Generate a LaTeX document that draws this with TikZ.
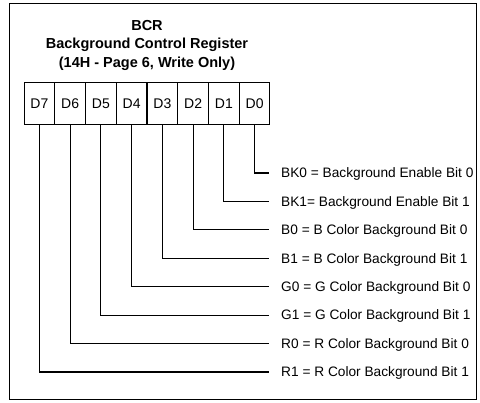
\documentclass[tikz,border=0pt]{standalone}
\usepackage{fontspec}
\setmainfont{Liberation Sans}
\usepackage{tikz}
\usetikzlibrary{positioning}
\tikzset{
    bitcell/.style={rectangle, draw=black, line width=1pt, minimum width=30.75pt,
                    minimum height=42pt, inner sep=0pt, font=\fontsize{14}{16}\selectfont},
    leadline/.style={line width=1.1pt, draw=black},
    bitlbl/.style={anchor=west, inner sep=0pt, text height=9.8pt, text depth=0pt,
                   font=\fontsize{13.7}{16}\selectfont},
    titlelbl/.style={align=center, inner sep=0pt, font=\bfseries\fontsize{14.5}{18.5}\selectfont},
}

\begin{document}
\begin{tikzpicture}[x=1pt, y=-1pt]
    \useasboundingbox (0,0) rectangle (480,403);
    \draw[line width=0.9pt] (9,3) rectangle (476,399);
    \node[titlelbl] (title) at (147,45)
        {BCR\\Background Control Register\\(14H - Page 6, Write Only)};
    % register cells
    \node[bitcell] (d7) at (39.4,104) {D7};
    \node[bitcell] (d6) at (70.1,104) {D6};
    \node[bitcell] (d5) at (100.9,104) {D5};
    \node[bitcell] (d4) at (131.6,104) {D4};
    \node[bitcell] (d3) at (162.4,104) {D3};
    \node[bitcell] (d2) at (193.1,104) {D2};
    \node[bitcell] (d1) at (223.9,104) {D1};
    \node[bitcell] (d0) at (254.6,104) {D0};
    % bit descriptions
    \node[bitlbl] (bk0) at (281,173) {BK0 = Background Enable Bit 0};
    \node[bitlbl] (bk1) at (281,201.4) {BK1= Background Enable Bit 1};
    \node[bitlbl] (b0) at (281,229.9) {B0 = B Color Background Bit 0};
    \node[bitlbl] (b1) at (281,258.3) {B1 = B Color Background Bit 1};
    \node[bitlbl] (g0) at (281,286.7) {G0 = G Color Background Bit 0};
    \node[bitlbl] (g1) at (281,315.1) {G1 = G Color Background Bit 1};
    \node[bitlbl] (r0) at (281,343.6) {R0 = R Color Background Bit 0};
    \node[bitlbl] (r1) at (281,372) {R1 = R Color Background Bit 1};
    % leads
    \draw[leadline] (d0.south) |- ([xshift=-12pt]bk0.west);
    \draw[leadline] (d1.south) |- ([xshift=-12pt]bk1.west);
    \draw[leadline] (d2.south) |- ([xshift=-12pt]b0.west);
    \draw[leadline] (d3.south) |- ([xshift=-12pt]b1.west);
    \draw[leadline] (d4.south) |- ([xshift=-12pt]g0.west);
    \draw[leadline] (d5.south) |- ([xshift=-12pt]g1.west);
    \draw[leadline] (d6.south) |- ([xshift=-12pt]r0.west);
    \draw[leadline] (d7.south) |- ([xshift=-12pt]r1.west);
\end{tikzpicture}
\end{document}
